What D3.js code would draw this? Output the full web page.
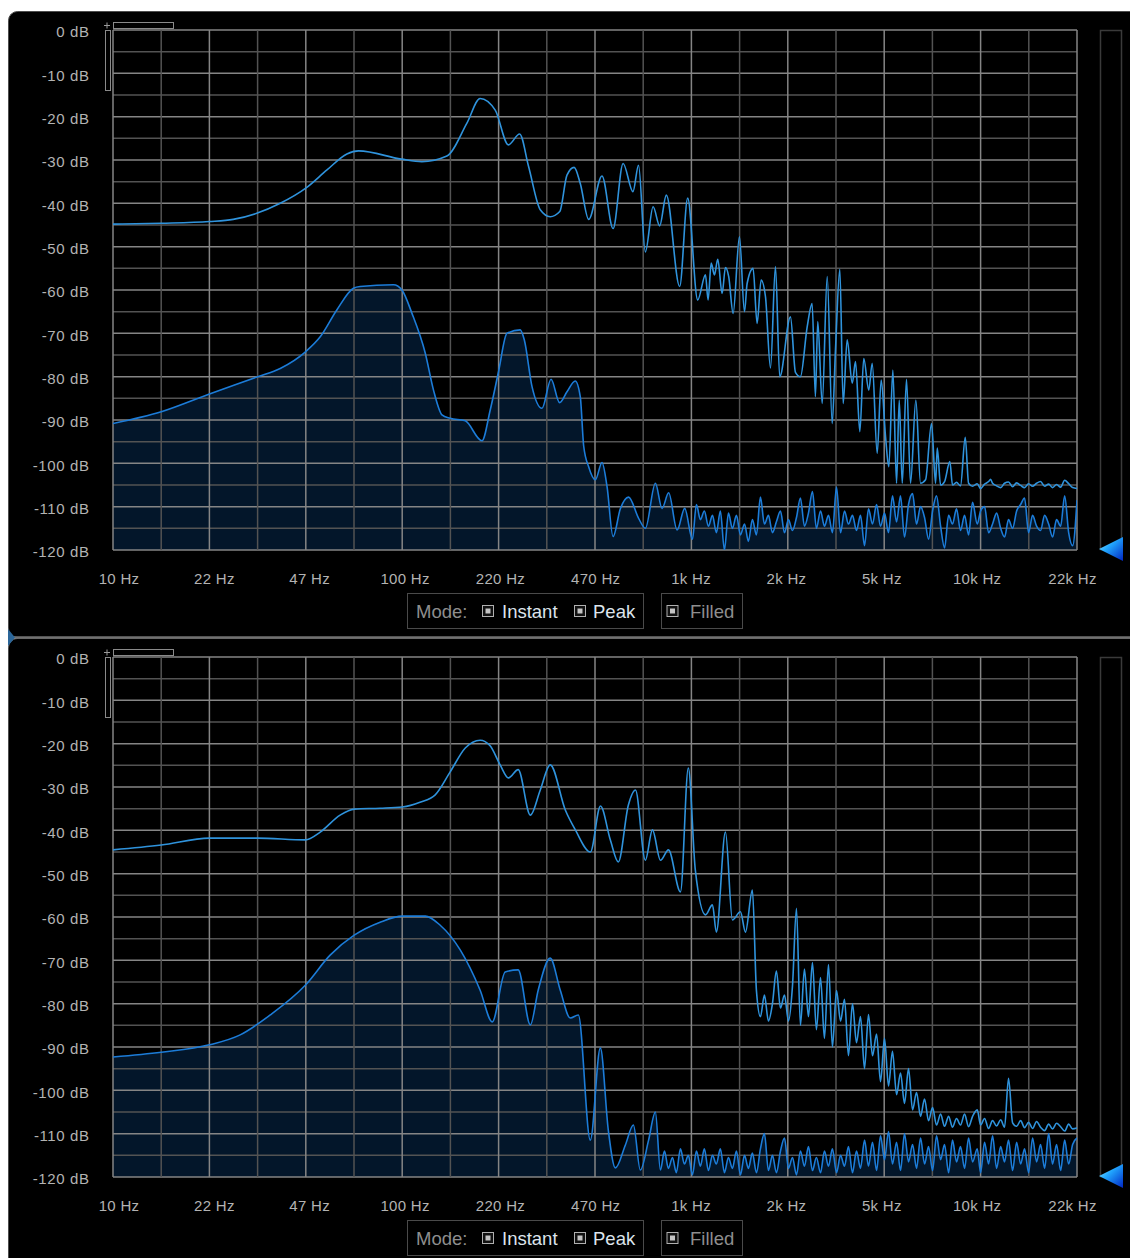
<!DOCTYPE html>
<html>
<head>
<meta charset="utf-8">
<script src="https://cdn.jsdelivr.net/npm/d3@7"></script>
<style>
  html, body { margin: 0; padding: 0; background: #fff; }
  svg { display: block; }
  text { font-family: "Liberation Sans", Arial, sans-serif; }
</style>
</head>
<body>
<svg id="chart" width="1130" height="1258"></svg>
<script>
// ---- axis labels ----
const freqLabels = ["10 Hz", "22 Hz", "47 Hz", "100 Hz", "220 Hz", "470 Hz", "1k Hz", "2k Hz", "5k Hz", "10k Hz", "22k Hz"];
const dbLabels = [0, -10, -20, -30, -40, -50, -60, -70, -80, -90, -100, -110, -120];
const modeLabels = ["Instant", "Peak"];

// ---- spectrum data: [frequency Hz, level dB] ----
const topPeak = [
  [10,-44.8],[14.7,-44.6],[21.6,-44.2],[26.1,-43.7],[31.5,-42.3],[38,-40],[46.6,-36.5],[55.2,-32.3],[64.7,-28.6],[71,-27.9],
  [100,-29.8],[117.7,-30.4],[143.8,-29.1],[168.7,-21.5],[187.5,-15.8],[211.5,-18.5],[235,-26.5],[257,-24],[276,-31.5],[303,-41.5],
  [328,-43.1],[354,-41.9],[375,-33.5],[397,-31.7],[417,-35.4],[446,-43.7],[496,-33.7],[542,-45.8],[587,-30.8],[635,-37.3],
  [664,-31.2],[701,-51.2],[746,-40.8],[786,-45.2],[829,-38.1],[922,-59.2],[983,-38.8],[1065,-62.3],[1133,-56.5],[1157,-62.3],
  [1186,-53.8],[1217,-56.5],[1250,-52.9],[1294,-60.8],[1329,-54.8],[1364,-56.9],[1413,-65.4],[1486,-47.7],[1547,-65],[1580,-58.5],
  [1657,-55],[1711,-67.7],[1767,-57.7],[1829,-61.5],[1904,-78],[1981,-54.6],[2050,-80],[2233,-66.2],[2324,-79],[2418,-80],
  [2552,-68.5],[2655,-63.1],[2725,-84.6],[2777,-67.3],[2877,-86.2],[2995,-56.9],[3116,-90.8],[3199,-73.8],[3312,-55.2],[3402,-86.2],
  [3512,-71.5],[3657,-81.5],[3754,-76.5],[3886,-92.7],[4009,-75.8],[4173,-83.1],[4289,-76.9],[4463,-97.7],[4608,-80.8],[4770,-93.8],
  [4898,-100.8],[5058,-78.5],[5209,-104.6],[5322,-85.4],[5451,-104.6],[5640,-80.6],[5824,-104.6],[6077,-85.4],[6309,-104.6],[6566,-103.8],
  [6887,-90.8],[7112,-104.6],[7210,-96.5],[7403,-105],[7642,-104.2],[7970,-99.6],[8143,-105],[8408,-104.4],[8680,-105.2],[9014,-94],
  [9258,-104.6],[9557,-105.3],[9920,-104.7],[10189,-105.8],[10518,-104.8],[10862,-104.2],[11036,-103.7],[11211,-104.6],[11579,-105.2],[11958,-105.6],
  [12337,-104.6],[12736,-104.3],[13156,-105.4],[13586,-104.5],[14026,-105.1],[14476,-105.6],[14948,-104.7],[15431,-105.3],[15935,-104.6],[16447,-104.2],
  [16988,-105.3],[17545,-104.8],[18101,-105.6],[18688,-104.9],[19305,-105.5],[19937,-103.9],[20584,-104.7],[21246,-105.6],[22000,-105.8]
];
const topInstant = [
  [10,-90.8],[14.7,-88.1],[21.6,-84],[31.75,-80],[38,-78.1],[46.6,-74.2],[52.3,-70.8],[59.7,-64.6],[68.2,-59.6],[71.9,-59.2],
  [93.9,-58.8],[100.4,-60],[108.8,-65.4],[121,-74.6],[129.2,-83.1],[138.2,-88.8],[147.6,-89.6],[166.5,-90.2],[190.2,-94.8],[203.2,-87.7],
  [217.2,-78.8],[232.3,-70],[258.2,-69.2],[266.7,-71.5],[283.7,-82.3],[307.2,-87.3],[330.2,-80.6],[353.6,-86],[375,-83.5],[400.6,-81],
  [417,-84.6],[428.5,-96],[445.8,-100.8],[470.3,-103.8],[496,-99.8],[516.4,-105.4],[541.8,-116.9],[574.2,-110.5],[613.3,-107.8],[664.5,-112.7],
  [701.2,-115],[759.6,-104.6],[801.1,-110.4],[844.6,-106.8],[903.4,-115.4],[960.1,-110.4],
  [1021,-117.5],[1054,-109.5],[1088,-113],[1123,-111],[1160,-114.5],[1198,-112],[1236,-116],[1276,-111],[1318,-120],[1361,-111.5],
  [1405,-115],[1451,-112],[1498,-116.5],[1547,-114],[1596,-118],[1648,-113],[1702,-116.5],[1757,-107.8],[1814,-114],[1873,-112],
  [1934,-116],[1996,-113.5],[2062,-111],[2129,-116],[2198,-113],[2269,-115.5],[2343,-112.5],[2418,-108],[2497,-114.5],[2578,-111.5],
  [2662,-106.5],[2747,-115],[2839,-111],[2929,-114.5],[3025,-112],[3122,-116],[3225,-105.5],[3331,-116],[3438,-111],[3548,-114],
  [3664,-112],[3783,-115.5],[3906,-112],[4034,-119],[4163,-110.5],[4299,-114],[4441,-109.5],[4583,-114.5],[4732,-111.5],[4885,-116],
  [5043,-107.5],[5209,-113.5],[5376,-107.5],[5550,-117],[5731,-109.5],[5920,-107],[6110,-114],[6309,-110],[6513,-112.5],[6726,-117.5],
  [6944,-111],[7168,-107.5],[7403,-114.5],[7642,-119.5],[7893,-112],[8143,-114],[8408,-110.5],[8680,-115.5],[8965,-112],[9258,-116.5],
  [9557,-109],[9920,-114],[10189,-111],[10518,-110],[10862,-116],[11211,-114],[11579,-111.5],[11958,-115],[12337,-117],[12736,-113],
  [13156,-115],[13586,-111],[14026,-109.5],[14476,-108],[14948,-116],[15431,-112],[15935,-114.5],[16447,-115.5],[16988,-112],[17545,-114],
  [18101,-117],[18688,-113],[19305,-114.5],[19937,-107.5],[20584,-116],[21246,-119],[22000,-108.5]
];
const bottomPeak = [
  [10,-44.5],[14.7,-43.4],[21.6,-41.8],[31.7,-41.8],[46.5,-42.2],[52.3,-40.4],[61.3,-36.5],[68.6,-35.1],[84.4,-34.9],[100.8,-34.6],
  [116,-33.5],[131,-31.8],[147.6,-26.5],[166.5,-21],[187.5,-19.2],[203,-20.5],[220,-24.9],[235,-27.9],[254,-26],[280,-36.5],
  [303,-30.7],[328,-24.9],[370,-35.3],[401,-39.9],[452,-45],[490,-34.4],[530,-42.2],[565,-47.3],[612,-34.2],[648,-30.7],
  [701,-46.9],[742,-39.9],[791,-46.9],[843,-44.5],[928,-54.2],[988,-25.6],[1045,-49.2],[1133,-59.5],[1198,-57.2],[1236,-63.5],
  [1329,-40.4],[1405,-60.7],[1498,-58.8],[1559,-63.5],[1648,-53.8],
  [1702,-77],[1757,-83],[1814,-78],[1873,-84],[1934,-80],[1996,-72.5],[2062,-81],[2129,-78],[2198,-84],[2269,-76],
  [2343,-58],[2418,-85],[2497,-72],[2578,-83],[2662,-70.5],[2747,-86],[2839,-74],[2929,-88],[3025,-71],[3122,-90],
  [3225,-77],[3331,-84],[3438,-79],[3548,-92],[3664,-80],[3783,-89],[3906,-83],[4034,-95],[4163,-82.5],[4299,-92],
  [4441,-87],[4583,-98],[4732,-88],[4885,-99],[5043,-91],[5209,-101],[5376,-96],[5550,-103],[5731,-95],[5920,-104.5],
  [6110,-100.5],[6309,-106],[6513,-102],[6726,-107],[6944,-104],[7168,-108],[7403,-105.5],[7642,-108.3],[7893,-106],[8143,-108.5],
  [8408,-106.5],[8680,-108],[8965,-105.5],[9258,-108.4],[9557,-106],[9920,-104.5],[10189,-108],[10518,-106.5],[10862,-108.8],[11211,-107],
  [11579,-108.2],[11958,-106.8],[12337,-108.5],[12736,-97.2],[13156,-107.5],[13586,-108.3],[14026,-107],[14476,-108.6],[14948,-107.4],[15431,-108.8],
  [15935,-107.2],[16447,-108.5],[16988,-109.3],[17545,-107.8],[18101,-108.9],[18688,-107.6],[19305,-108.4],[19937,-109.4],[20584,-107.8],[21246,-108.9],
  [22000,-108.7]
];
const bottomInstant = [
  [10,-92.3],[14.7,-91.2],[21.6,-89.5],[27.6,-87.2],[35.1,-82.6],[46.5,-75.7],[56.6,-68.8],[68.6,-64.2],[84.4,-61.2],[100.8,-59.8],
  [121,-59.8],[136.3,-61.9],[159.9,-67.6],[187.5,-76.9],[206.5,-84.2],[229,-72.7],[254,-72.2],[280,-84.9],[298,-76.9],[328,-69.5],
  [355.5,-76.9],[385,-83.3],[410.6,-82.6],[451.8,-111.5],[489.5,-90.2],[521.6,-109.2],[551.7,-117.9],[597.8,-112.6],[637.3,-108],[673.5,-118.4],
  [719.5,-111.5],[759.6,-105],[790.7,-118.4],
  [816.5,-114],[842.6,-118],[870.5,-115.5],[897.9,-119],[927.6,-113.5],[957.3,-117],[988.4,-115],
  [1021,-119.5],[1054,-114],[1088,-117.5],[1123,-113.5],[1160,-118.5],[1198,-115],[1236,-117],[1276,-113.5],[1318,-119],[1361,-115.5],
  [1405,-118],[1451,-114],[1498,-119.5],[1547,-115],[1596,-118],[1648,-114.5],[1702,-119],[1757,-113.5],[1814,-110],[1873,-118.5],
  [1934,-115],[1996,-119],[2062,-114],[2129,-111],[2198,-118],[2269,-115.5],[2343,-119.5],[2418,-114],[2497,-117.5],[2578,-113],
  [2662,-118.5],[2747,-115.5],[2839,-119],[2929,-114],[3025,-117.5],[3122,-113.5],[3225,-119],[3331,-115],[3438,-117.5],[3548,-113],
  [3664,-119],[3783,-114],[3906,-118],[4034,-111.5],[4163,-117.5],[4299,-112],[4441,-118.5],[4583,-110.5],[4732,-116],[4885,-109.5],
  [5043,-117],[5209,-112],[5376,-118.5],[5550,-110],[5731,-116.5],[5920,-112.5],[6110,-118],[6309,-111],[6513,-117],[6726,-113],
  [6944,-118.5],[7168,-110.5],[7403,-116],[7642,-112.5],[7893,-119],[8143,-111.5],[8408,-116.5],[8680,-113],[8965,-118],[9258,-111],
  [9557,-116.5],[9920,-113.5],[10189,-119],[10518,-112],[10862,-117],[11211,-110.5],[11579,-118],[11958,-113],[12337,-116.5],[12736,-111.5],
  [13156,-118.5],[13586,-112],[14026,-117],[14476,-113.5],[14948,-119],[15431,-111],[15935,-116.5],[16447,-112.5],[16988,-118],[17545,-110],
  [18101,-117],[18688,-112.5],[19305,-118.5],[19937,-111.5],[20584,-117],[21246,-112.5],[22000,-111]
];

// ---- layout ----
const plotLeft = 113, plotRight = 1077, plotTop = 30, plotBottom = 550;
const panelShift = 627;
const colors = {
  peak: "#2f93dc",
  instant: "#1c7cd8",
  fill: "#03162a",
  gridMajor: "#858585",
  gridMinor: "#535353",
  axisText: "#b3b3b3",
  dimText: "#8e8e8e",
  brightText: "#dde4ec",
  boxLine: "#4a4a4a"
};

const svg = d3.select("#chart");
const defs = svg.append("defs");

const grad = defs.append("linearGradient").attr("id", "meterGrad")
  .attr("x1", "0").attr("y1", "0").attr("x2", "1").attr("y2", "1");
grad.append("stop").attr("offset", "0%").attr("stop-color", "#a6f4ff");
grad.append("stop").attr("offset", "40%").attr("stop-color", "#22a8ff");
grad.append("stop").attr("offset", "100%").attr("stop-color", "#0026c4");

// window frames
svg.append("rect").attr("x", 8.5).attr("y", 11.5).attr("width", 1140).attr("height", 626)
  .attr("rx", 9).attr("fill", "#000").attr("stroke", "#4d4d4d");
svg.append("rect").attr("x", 8.5).attr("y", 638.5).attr("width", 1140).attr("height", 640)
  .attr("rx", 9).attr("fill", "#000").attr("stroke", "#4d4d4d");
svg.append("line").attr("x1", 12).attr("x2", 1130).attr("y1", 637.5).attr("y2", 637.5)
  .attr("stroke", "#707070").attr("stroke-width", 2.5);
svg.append("path").attr("d", "M8,629 L15,637.5 L8,646 Z").attr("fill", "#2b6699");

const x = d3.scaleLog().domain([10, 22000]).range([plotLeft, plotRight]);
const xLabel = d3.scaleLog().domain([10, 22000]).range([119, 1072.5]);
const y = d3.scaleLinear().domain([-120, 0]).range([plotBottom, plotTop]);

// 20 equal log divisions across the band; every second one is labelled
const gridFreqs = d3.range(21).map(i => 10 * Math.pow(2200, i / 20));
const gridDb = d3.range(0, -121, -5);

function drawPanel(idx, peak, instant) {
  const g = svg.append("g").attr("transform", `translate(0,${idx * panelShift})`);
  const clipId = "clip" + idx;
  defs.append("clipPath").attr("id", clipId)
    .append("rect").attr("x", plotLeft).attr("y", plotTop)
    .attr("width", plotRight - plotLeft).attr("height", plotBottom - plotTop);

  g.append("rect").attr("x", plotLeft).attr("y", plotTop)
    .attr("width", plotRight - plotLeft).attr("height", plotBottom - plotTop).attr("fill", "#000");

  const area = d3.area().x(d => x(d[0])).y0(y(-120)).y1(d => y(d[1])).curve(d3.curveMonotoneX);
  g.append("path").datum(instant).attr("d", area).attr("fill", colors.fill).attr("clip-path", `url(#${clipId})`);

  // grid
  const grid = g.append("g");
  grid.selectAll("line.h").data(gridDb).join("line").attr("class", "h")
    .attr("x1", plotLeft).attr("x2", plotRight)
    .attr("y1", d => y(d)).attr("y2", d => y(d))
    .attr("stroke", d => d % 10 === 0 ? colors.gridMajor : colors.gridMinor)
    .attr("stroke-width", 1.5);
  grid.selectAll("line.v").data(gridFreqs).join("line").attr("class", "v")
    .attr("x1", d => x(d)).attr("x2", d => x(d))
    .attr("y1", plotTop).attr("y2", plotBottom)
    .attr("stroke", (d, i) => i % 2 === 0 ? colors.gridMajor : colors.gridMinor)
    .attr("stroke-width", 1.5);

  const line = d3.line().x(d => x(d[0])).y(d => y(d[1])).curve(d3.curveMonotoneX);
  g.append("path").datum(instant).attr("d", line).attr("fill", "none")
    .attr("stroke", colors.instant).attr("stroke-width", 1.6).attr("clip-path", `url(#${clipId})`);
  g.append("path").datum(peak).attr("d", line).attr("fill", "none")
    .attr("stroke", colors.peak).attr("stroke-width", 1.6).attr("clip-path", `url(#${clipId})`);

  // dB labels
  g.selectAll("text.db").data(dbLabels).join("text").attr("class", "db")
    .attr("x", 89.5).attr("y", d => y(d) + 7.3)
    .attr("text-anchor", "end").attr("font-size", 15).attr("letter-spacing", 0.6)
    .attr("fill", colors.axisText).text(d => `${d} dB`);

  // frequency labels
  const labelled = gridFreqs.filter((d, i) => i % 2 === 0);
  g.selectAll("text.hz").data(labelled).join("text").attr("class", "hz")
    .attr("x", d => xLabel(d)).attr("y", 584)
    .attr("text-anchor", "middle").attr("font-size", 15).attr("letter-spacing", 0.3)
    .attr("fill", colors.axisText).text((d, i) => freqLabels[i]);

  // zoom handles at the top-left of the plot
  g.append("rect").attr("x", 113.5).attr("y", 22.5).attr("width", 60).attr("height", 6)
    .attr("fill", "none").attr("stroke", "#8a8a8a");
  g.append("rect").attr("x", 105.5).attr("y", 30.5).attr("width", 5).attr("height", 60)
    .attr("fill", "none").attr("stroke", "#8a8a8a");
  g.append("path").attr("d", "M104,25.5 H110 M107,22.5 V28.5").attr("stroke", "#9a9a9a").attr("stroke-width", 1);

  // level meter
  g.append("rect").attr("x", 1100.5).attr("y", 30.5).attr("width", 21).attr("height", 519)
    .attr("fill", "none").attr("stroke", "#3a3a3a").attr("stroke-width", 1.5);
  g.append("path").attr("d", `M1099,${y(-120) - 1} L1123,537 L1123,561 Z`).attr("fill", "url(#meterGrad)");

  // mode controls
  const box = g.append("g");
  box.append("rect").attr("x", 407.5).attr("y", 593.5).attr("width", 236).attr("height", 35)
    .attr("fill", "none").attr("stroke", colors.boxLine);
  box.append("rect").attr("x", 661.5).attr("y", 593.5).attr("width", 81).attr("height", 35)
    .attr("fill", "none").attr("stroke", colors.boxLine);
  box.append("text").attr("x", 416).attr("y", 618).attr("font-size", 18.5)
    .attr("fill", colors.dimText).text("Mode:");
  const checks = [{cx: 482, tx: 502, label: modeLabels[0], c: colors.brightText},
                  {cx: 574, tx: 593, label: modeLabels[1], c: colors.brightText},
                  {cx: 666.5, tx: 690, label: "Filled", c: colors.dimText}];
  checks.forEach(ch => {
    box.append("rect").attr("x", ch.cx + 0.5).attr("y", 605.5).attr("width", 11).attr("height", 11)
      .attr("fill", "#111").attr("stroke", "#b0b0b0");
    box.append("rect").attr("x", ch.cx + 3.5).attr("y", 608.5).attr("width", 5).attr("height", 5)
      .attr("fill", "#c4c4c4");
    box.append("text").attr("x", ch.tx).attr("y", 618).attr("font-size", 18.5)
      .attr("fill", ch.c).text(ch.label);
  });
}

drawPanel(0, topPeak, topInstant);
drawPanel(1, bottomPeak, bottomInstant);
</script>
</body>
</html>
